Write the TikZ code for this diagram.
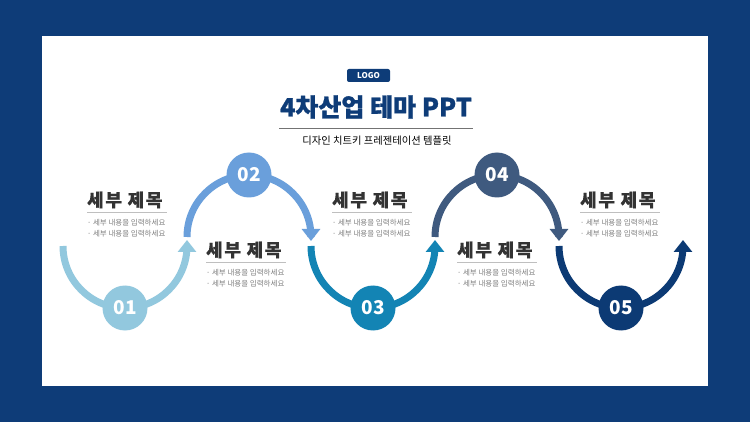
\documentclass[tikz,border=0pt]{standalone}
\usepackage{fontspec}
\setmainfont{Noto Sans CJK KR}
\usepackage{xcolor}
\usetikzlibrary{arrows.meta, positioning}
\definecolor{navy}{HTML}{0E3C78}
\definecolor{cA}{HTML}{92C8DE}
\definecolor{cB}{HTML}{6A9FDB}
\definecolor{cC}{HTML}{1384B4}
\definecolor{cD}{HTML}{3F5A7F}
\definecolor{cE}{HTML}{0C3A74}
\tikzset{
  swing/.style={line width=7pt, -{Triangle[width=18pt,length=12pt]}},
  num/.style={circle,inner sep=0pt,minimum size=45pt,text=white,font=\bfseries\fontsize{19}{19}\selectfont},
  head/.style={anchor=west,inner sep=0pt,text=black!80,font=\bfseries\fontsize{18}{18}\selectfont\addfontfeature{LetterSpace=9,FakeBold=0.6}},
  body/.style={inner sep=0pt,align=left,text=black!50,font=\fontsize{7.5}{11.5}\selectfont},
  rule/.style={draw=black!25, line width=0.8pt}
}

\begin{document}
\begin{tikzpicture}[x=1pt, y=1pt]
  \useasboundingbox (0,0) rectangle (750,-422);
  \fill[navy] (0,0) rectangle (750,-422);
  \fill[white] (42,-36) rectangle (708,-386);
  \node[fill=navy, rounded corners=2pt, minimum width=43pt, minimum height=13pt, inner sep=0pt, text=white, font=\bfseries\fontsize{8}{8}\selectfont] (logo) at (368.5,-75.5) {LOGO};
  \node[inner sep=0pt, text=navy, font=\bfseries\fontsize{25}{25}\selectfont\addfontfeature{FakeBold=1}] (title) at (376,-107) {4차산업 테마 PPT};
  \draw[draw=black!55, line width=0.8pt] (279,-128) -- (473,-128);
  \node[inner sep=0pt, font=\fontsize{10.3}{10.3}\selectfont] (sub) at (377,-141) {디자인 치트키 프레젠테이션 템플릿};

  \coordinate (s1) at (63,-246);  \coordinate (e1) at (187,-240);
  \coordinate (s2) at (187,-237); \coordinate (e2) at (311,-241);
  \coordinate (s3) at (311,-246); \coordinate (e3) at (435,-240);
  \coordinate (s4) at (435,-237); \coordinate (e4) at (559,-241);
  \coordinate (s5) at (559,-246); \coordinate (e5) at (683,-240);
  \draw[swing, cA] (s1) arc[start angle=180, end angle=360, radius=62pt] -- (e1);
  \draw[swing, cB] (s2) arc[start angle=180, end angle=0, radius=62pt] -- (e2);
  \draw[swing, cC] (s3) arc[start angle=180, end angle=360, radius=62pt] -- (e3);
  \draw[swing, cD] (s4) arc[start angle=180, end angle=0, radius=62pt] -- (e4);
  \draw[swing, cE] (s5) arc[start angle=180, end angle=360, radius=62pt] -- (e5);

  \node[num, fill=cA] (n1) at (125,-308) {01};
  \node[num, fill=cB] (n2) at (249,-175) {02};
  \node[num, fill=cC] (n3) at (373,-308) {03};
  \node[num, fill=cD] (n4) at (497,-175) {04};
  \node[num, fill=cE] (n5) at (621,-308) {05};

  \node[head] (h1) at (87,-200) {세부 제목};
  \node[head] (h2) at (206,-250) {세부 제목};
  \node[head] (h3) at (332,-200) {세부 제목};
  \node[head] (h4) at (457,-250) {세부 제목};
  \node[head] (h5) at (580,-200) {세부 제목};
  \draw[rule] ([yshift=-4pt]h1.south west) -- ++(80,0);
  \draw[rule] ([yshift=-4pt]h2.south west) -- ++(80,0);
  \draw[rule] ([yshift=-4pt]h3.south west) -- ++(80,0);
  \draw[rule] ([yshift=-4pt]h4.south west) -- ++(80,0);
  \draw[rule] ([yshift=-4pt]h5.south west) -- ++(80,0);
  \node[body, below=10pt of h1.south west, anchor=north west] (b1) {· 세부 내용을 입력하세요\\· 세부 내용을 입력하세요};
  \node[body, below=10pt of h2.south west, anchor=north west] (b2) {· 세부 내용을 입력하세요\\· 세부 내용을 입력하세요};
  \node[body, below=10pt of h3.south west, anchor=north west] (b3) {· 세부 내용을 입력하세요\\· 세부 내용을 입력하세요};
  \node[body, below=10pt of h4.south west, anchor=north west] (b4) {· 세부 내용을 입력하세요\\· 세부 내용을 입력하세요};
  \node[body, below=10pt of h5.south west, anchor=north west] (b5) {· 세부 내용을 입력하세요\\· 세부 내용을 입력하세요};
\end{tikzpicture}
\end{document}
